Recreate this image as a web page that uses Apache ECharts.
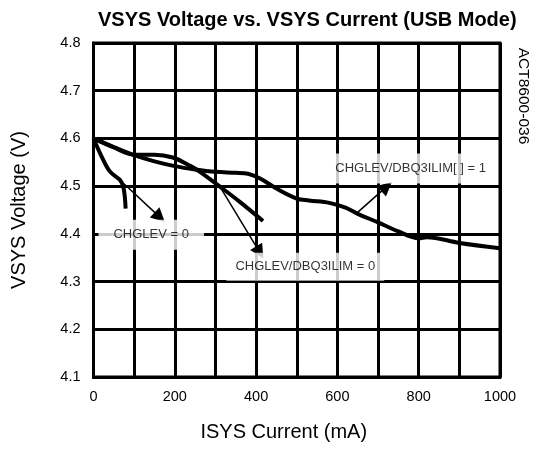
<!DOCTYPE html>
<html>
<head>
<meta charset="utf-8">
<script src="https://cdn.jsdelivr.net/npm/echarts@6/dist/echarts.min.js"></script>
<style>
  html, body { margin: 0; padding: 0; background: #fff; }
  #chart { width: 546px; height: 450px; }
</style>
</head>
<body>
<div id="chart"></div>
<script>
// VSYS voltage (V) against ISYS current (mA), three charger settings
const curveDbq1 = [
  [0, 4.600], [50, 4.582], [100, 4.565], [150, 4.552], [200, 4.542], [250, 4.535],
  [300, 4.530], [350, 4.528], [380, 4.526], [410, 4.516], [450, 4.495], [500, 4.474],
  [530, 4.470], [580, 4.465], [620, 4.455], [650, 4.442], [700, 4.424], [750, 4.405],
  [800, 4.391], [820, 4.393], [900, 4.381], [1000, 4.370]
];
const curveDbq0 = [
  [0, 4.600], [50, 4.581], [100, 4.566], [150, 4.566], [195, 4.560], [237, 4.543],
  [262, 4.530], [311, 4.499], [360, 4.467], [417, 4.427]
];
const curveChglev0 = [
  [0, 4.600], [24, 4.555], [41, 4.530], [65, 4.513], [73, 4.499], [77, 4.478], [79, 4.453]
];

// Callout texts, their anchor (x, y) and the arrow from curve to callout
const calloutTexts = ['CHGLEV = 0', 'CHGLEV/DBQ3ILIM = 0', 'CHGLEV/DBQ3ILIM[ ] = 1'];
const calloutAnchors = [[142, 4.398], [521, 4.331], [780, 4.537]];
const arrowStarts = [[75, 4.505], [311, 4.499], [647, 4.443]];
const arrowEnds = [[163, 4.435], [409, 4.361], [721, 4.499]];

const xTicks = { min: 0, max: 1000, step: 100, labelStep: 200 };
const yTicks = { min: 4.1, max: 4.8, step: 0.1 };

const FONT = '"Liberation Sans", Arial, Helvetica, sans-serif';
const INK = '#000';

const chart = echarts.init(document.getElementById('chart'), null, { renderer: 'canvas' });

const calloutPadding = [[8, 15], [7, 9], [8, 10]];

const lineSeries = (data) => ({
  type: 'line',
  data: data,
  showSymbol: false,
  smooth: 0.35,
  lineStyle: { color: INK, width: 4 },
  z: 3,
  silent: true
});

chart.setOption({
  animation: false,
  backgroundColor: '#fff',
  title: {
    text: 'VSYS Voltage vs. VSYS Current (USB Mode)',
    left: 93,
    top: 5,
    textStyle: { fontFamily: FONT, fontWeight: 'bold', fontSize: 20, color: INK }
  },
  grid: {
    left: 93.5, right: 46, top: 43, bottom: 73,
    show: true, borderColor: INK, borderWidth: 3, backgroundColor: 'transparent'
  },
  xAxis: {
    type: 'value',
    min: xTicks.min, max: xTicks.max, interval: xTicks.step,
    name: 'ISYS Current (mA)',
    nameLocation: 'middle',
    nameGap: 45,
    nameTextStyle: { fontFamily: FONT, fontSize: 20, color: INK, padding: [0, 26, 0, 0] },
    axisLine: { show: true, lineStyle: { color: INK, width: 3 } },
    axisTick: { show: false },
    axisLabel: {
      margin: 12,
      fontFamily: FONT, fontSize: 14.5, color: INK,
      formatter: v => (v % xTicks.labelStep === 0 ? String(v) : '')
    },
    splitLine: { show: true, lineStyle: { color: INK, width: 3 } }
  },
  yAxis: {
    type: 'value',
    min: yTicks.min, max: yTicks.max, interval: yTicks.step,
    name: 'VSYS Voltage (V)',
    nameLocation: 'middle',
    nameGap: 64,
    nameTextStyle: { fontFamily: FONT, fontSize: 20, color: INK },
    axisLine: { show: true, lineStyle: { color: INK, width: 3 } },
    axisTick: { show: false },
    axisLabel: {
      margin: 13,
      fontFamily: FONT, fontSize: 14.5, color: INK,
      formatter: v => v.toFixed(1)
    },
    splitLine: { show: true, lineStyle: { color: INK, width: 3 } }
  },
  series: [
    lineSeries(curveDbq1),
    lineSeries(curveDbq0),
    lineSeries(curveChglev0),
    {
      type: 'lines',
      coordinateSystem: 'cartesian2d',
      silent: true,
      z: 4,
      symbol: ['none', 'triangle'],
      symbolSize: 14,
      lineStyle: { color: INK, width: 1.5, opacity: 1 },
      data: arrowStarts.map((s, i) => ({ coords: [s, arrowEnds[i]] }))
    },
    {
      type: 'scatter',
      silent: true,
      z: 5,
      symbolSize: 0,
      data: calloutAnchors.map((p, i) => ({
        value: p,
        label: {
          show: true,
          position: 'inside',
          formatter: calloutTexts[i],
          fontFamily: FONT, fontSize: 13, lineHeight: 14, color: INK,
          backgroundColor: '#fff',
          padding: calloutPadding[i]
        }
      }))
    }
  ],
  graphic: [{
    type: 'text',
    x: 523,
    y: 96,
    rotation: -Math.PI / 2,
    style: {
      text: 'ACT8600-036',
      fontFamily: FONT, fontSize: 15.5, fill: INK,
      align: 'center', verticalAlign: 'middle'
    }
  }]
});
</script>
</body>
</html>
